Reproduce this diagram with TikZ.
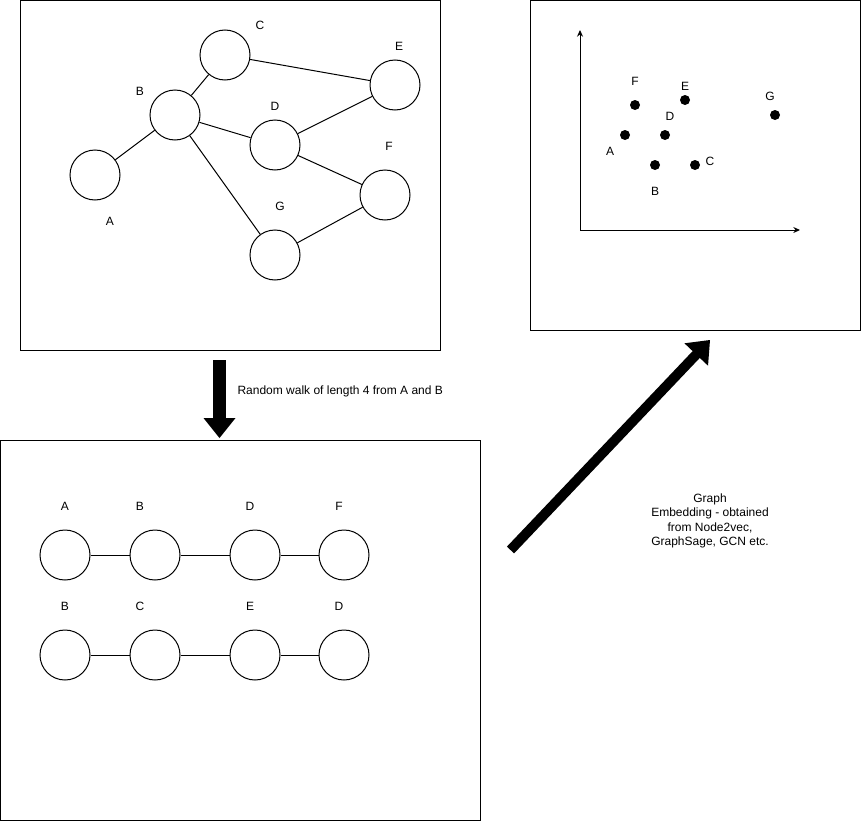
\documentclass[tikz,border=0pt]{standalone}
\usepackage{fontspec}
\setmainfont{Liberation Sans}
\usetikzlibrary{calc,arrows.meta}

% filled block arrow from #1 to #2: shaft half-width #3, head half-width #4, head length #5
\newcommand\blockarrow[5]{%
  \coordinate (hb) at ($(#2)!#5!(#1)$);
  \fill ($(#1)!#3!90:(#2)$) -- ($(hb)!#3!-90:(#1)$) -- ($(hb)!#4!-90:(#1)$)
     -- (#2) -- ($(hb)!#4!90:(#1)$) -- ($(hb)!#3!90:(#1)$)
     -- ($(#1)!#3!-90:(#2)$) -- cycle;
}

\begin{document}
\begin{tikzpicture}[x=0.75pt,y=-0.75pt,line width=0.75pt,
  every node/.style={font=\fontsize{9}{10.7}\selectfont,inner sep=0pt},
  panel/.style={draw,fill=white},
  vertex/.style={draw,circle,minimum size=37.5pt,inner sep=0pt},
  edge/.style={draw},
  dot/.style={fill,circle,minimum size=7.5pt,inner sep=0pt},
  axis/.style={draw,-{Stealth[length=5pt,width=4.5pt]}}]
\useasboundingbox (0,0) rectangle (861,821);

% ---- input graph ----
\draw[panel] (20.5,0.5) rectangle (440.5,350.5);
\node[vertex] (gA) at (95,175) {};
\node[vertex] (gB) at (175,115) {};
\node[vertex] (gC) at (225,55) {};
\node[vertex] (gD) at (275,145) {};
\node[vertex] (gE) at (395,85) {};
\node[vertex] (gF) at (385,195) {};
\node[vertex] (gG) at (275,255) {};
\node (lA) at (110,221) {A};
\node (lB) at (140,91) {B};
\node (lC) at (260,25) {C};
\node (lD) at (275,106) {D};
\node (lE) at (399,46) {E};
\node (lF) at (389,146) {F};
\node (lG) at (280,206) {G};
\draw[edge] (gA) -- (gB);
\draw[edge] (gB) -- (gC);
\draw[edge] (gB) -- (gD);
\draw[edge] (gB) -- (gG);
\draw[edge] (gC) -- (gE);
\draw[edge] (gD) -- (gE);
\draw[edge] (gD) -- (gF);
\draw[edge] (gG) -- (gF);

% ---- embedding space ----
\draw[panel] (530.5,0.5) rectangle (860.5,330.5);
\coordinate (origin) at (580,230);
\coordinate (yend) at (580,30);
\coordinate (xend) at (800,230);
\draw[axis] (origin) -- (yend);
\draw[axis] (origin) -- (xend);
\node[dot] (eF) at (635,105) {};
\node[dot] (eE) at (685,100) {};
\node[dot] (eG) at (775,115) {};
\node[dot] (eA) at (625,135) {};
\node[dot] (eD) at (665,135) {};
\node[dot] (eB) at (655,165) {};
\node[dot] (eC) at (695,165) {};
\node (mF) at (635,81) {F};
\node (mE) at (685,86) {E};
\node (mG) at (770,96) {G};
\node (mD) at (670,116) {D};
\node (mA) at (610,151) {A};
\node (mC) at (710,161) {C};
\node (mB) at (655,191) {B};

% ---- random walk arrow ----
\coordinate (walkTail) at (219.5,360);
\coordinate (walkTip) at (219.5,438);
\blockarrow{walkTail}{walkTip}{4.7pt}{12pt}{15pt}
\node[anchor=west] (walkText) at (237,391) {Random walk of length 4 from A and B};

% ---- walks ----
\draw[panel] (0.5,440.5) rectangle (480.5,820.5);
\node[vertex] (w1a) at (65,555) {};
\node[vertex] (w1b) at (155,555) {};
\node[vertex] (w1c) at (255,555) {};
\node[vertex] (w1d) at (344,555) {};
\node[vertex] (w2a) at (65,655) {};
\node[vertex] (w2b) at (155,655) {};
\node[vertex] (w2c) at (255,655) {};
\node[vertex] (w2d) at (344,655) {};
\draw[edge] (w1a) -- (w1b) (w1b) -- (w1c) (w1c) -- (w1d);
\draw[edge] (w2a) -- (w2b) (w2b) -- (w2c) (w2c) -- (w2d);
\node (t1a) at (65,506) {A};
\node (t1b) at (140,506) {B};
\node (t1c) at (250,506) {D};
\node (t1d) at (339,506) {F};
\node (t2a) at (65,606) {B};
\node (t2b) at (140,606) {C};
\node (t2c) at (250,606) {E};
\node (t2d) at (339,606) {D};

% ---- embedding arrow ----
\coordinate (embTail) at (510.5,550);
\coordinate (embTip) at (710,340);
\blockarrow{embTail}{embTip}{3.7pt}{12.2pt}{15pt}
\node[align=center] (embText) at (710,521)
  {Graph\\Embedding - obtained\\from Node2vec,\\GraphSage, GCN etc.};
\end{tikzpicture}
\end{document}
